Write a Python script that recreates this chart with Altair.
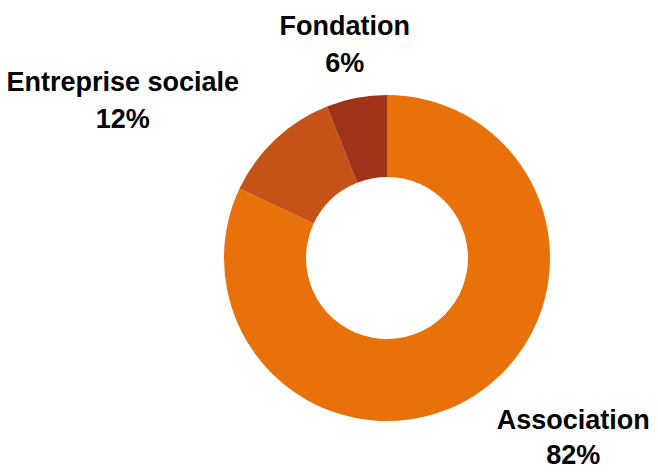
import altair as alt
import pandas as pd

categories = ["Association", "Entreprise sociale", "Fondation"]
shares = [82, 12, 6]
colors = ["#E8710A", "#C55217", "#A0321A"]

df = pd.DataFrame({"categorie": categories, "part": shares, "rang": list(range(len(categories)))})
df["etiquette"] = df["categorie"] + "\n" + df["part"].astype(str) + "%"

cx, cy = 379, 250
theta_scale = alt.Scale(domain=[0, 100])

# label layout only: offsets from the polar anchor and line spacing
label_layout = {
    "Association": (71, -19, 35),
    "Entreprise sociale": (-117, -18, 37),
    "Fondation": (-2, -20, 37),
}

arcs = alt.Chart(df).mark_arc(innerRadius=81, outerRadius=163).encode(
    theta=alt.Theta("part:Q", stack=True, scale=theta_scale),
    order=alt.Order("rang:O"),
    color=alt.Color("categorie:N", scale=alt.Scale(domain=categories, range=colors), legend=None),
    x=alt.value(cx),
    y=alt.value(cy),
)

def label(cat):
    dx, dy, lh = label_layout[cat]
    return alt.Chart(df).transform_stack(
        stack="part", as_=["t0", "t1"], groupby=[], sort=[alt.SortField("rang", order="ascending")]
    ).transform_calculate(
        mid="(datum.t0 + datum.t1) / 2"
    ).transform_filter(
        alt.datum.categorie == cat
    ).mark_text(
        radius=215, align="center", baseline="middle", lineBreak="\n", lineHeight=lh,
        dx=dx, dy=dy,
        font="Liberation Sans", fontSize=27, fontWeight="bold", color="black"
    ).encode(
        theta=alt.Theta("mid:Q", scale=theta_scale),
        text="etiquette:N",
        x=alt.value(cx),
        y=alt.value(cy),
    )

chart = alt.layer(
    arcs,
    *[label(c) for c in categories],
).properties(
    width=642, height=458, padding=0,
    autosize=alt.AutoSizeParams(type="none"),
).configure_view(stroke=None)

chart.save("out.html", embed_options={"renderer": "svg", "actions": False})
